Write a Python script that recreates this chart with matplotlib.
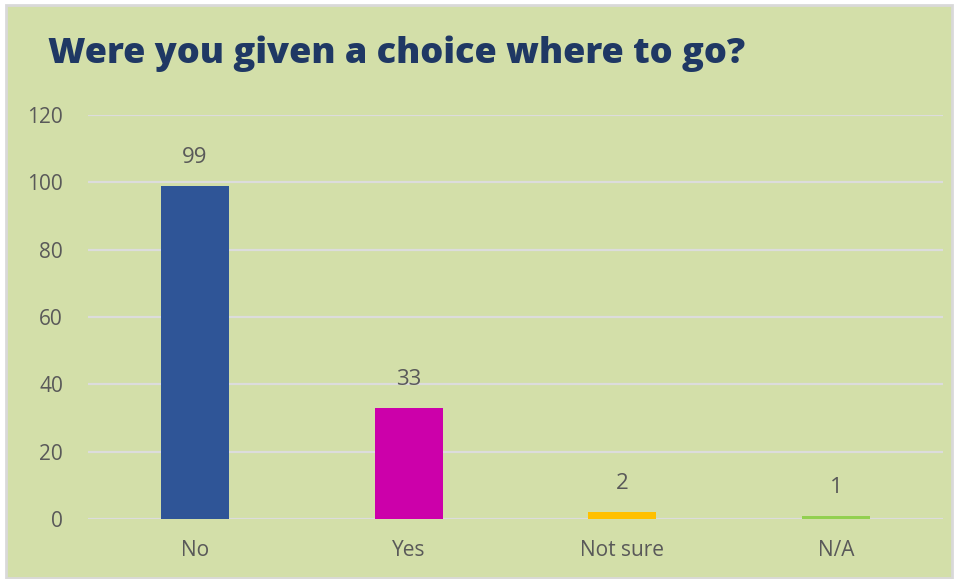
import matplotlib.pyplot as plt
from matplotlib.patches import Rectangle

# datos del gráfico
categories = ['No', 'Yes', 'Not sure', 'N/A']
values = [99, 33, 2, 1]
colors = ['#2F5597', '#CC00AA', '#FFC000', '#92D050']
y_ticks = [0, 20, 40, 60, 80, 100, 120]

bg = '#D3DFA9'
text_grey = '#595959'

fig = plt.figure(figsize=(9.58, 5.79), dpi=100)
fig.patch.set_facecolor('white')

# fondo verde con borde gris
fig.patches.append(Rectangle((6 / 958, 1 / 579), 946 / 958, 573 / 579,
                             transform=fig.transFigure, facecolor=bg,
                             edgecolor='#D9D9D9', linewidth=2, zorder=-5))

ax = fig.add_axes([88 / 958, 60 / 579, 855 / 958, 404 / 579])
ax.set_facecolor('none')

x = range(len(categories))
bars = ax.bar(x, values, width=0.318, color=colors, zorder=3)

ax.set_xlim(-0.5, 3.5)
ax.set_ylim(0, 120)
ax.set_yticks(y_ticks)
ax.set_xticks(list(x))
ax.set_xticklabels(categories)
ax.grid(axis='y', color='#DCDCDC', linewidth=1.6, zorder=0)
ax.set_axisbelow(True)
for s in ax.spines.values():
    s.set_visible(False)
ax.tick_params(length=0, labelsize=15, labelcolor=text_grey, pad=15)
ax.tick_params(axis='y', pad=18)
for lbl in ax.get_xticklabels() + ax.get_yticklabels():
    lbl.set_fontfamily('Open Sans')

# etiquetas de valor
for b, v in zip(bars, values):
    ax.annotate(str(v), (b.get_x() + b.get_width() / 2, v),
                xytext=(0, 13), textcoords='offset points',
                ha='center', va='bottom', fontsize=16, color=text_grey,
                fontfamily='Open Sans')

fig.text(48 / 958, 1 - 63 / 579, 'Were you given a choice where to go?',
         fontsize=26, fontweight='heavy', color='#1F3864',
         fontfamily='Open Sans', va='baseline', ha='left')

fig.savefig('out.png', dpi=100, facecolor=fig.get_facecolor())
